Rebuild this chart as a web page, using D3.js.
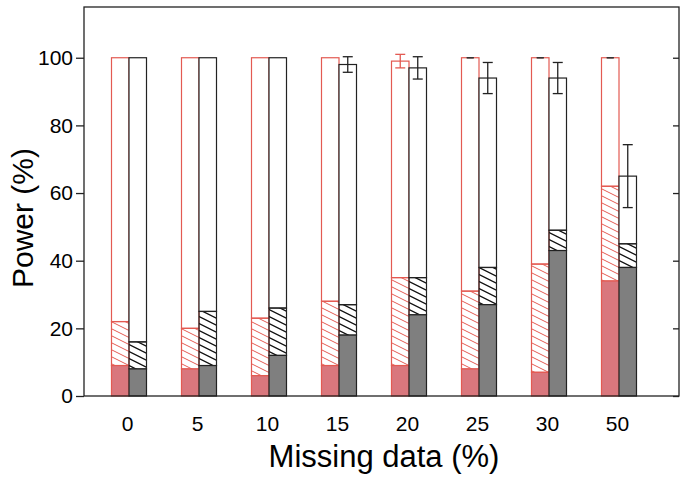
<!DOCTYPE html>
<html>
<head>
<meta charset="utf-8">
<script src="https://cdn.jsdelivr.net/npm/d3@7"></script>
<style>
    body { margin: 0; background: #fff; }
    text { font-family: Arial, "Liberation Sans", sans-serif; fill: #000; }
</style>
</head>
<body>
<div id="chart"></div>
<script>
// Missing data levels (x categories)
const categories = ["0", "5", "10", "15", "20", "25", "30", "50"];

// Red bars: solid part, hatched part top, total, error
const redSolid = [9, 8, 6, 9, 9, 8, 7, 34];
const redHatch = [22, 20, 23, 28, 35, 31, 39, 62];
const redTotal = [100, 100, 100, 100, 99, 100, 100, 100];
const redErr = [null, null, null, null, 2, 0, 0, 0];

// Grey/black bars
const blackSolid = [8, 9, 12, 18, 24, 27, 43, 38];
const blackHatch = [16, 25, 26, 27, 35, 38, 49, 45];
const blackTotal = [100, 100, 100, 98, 97, 94, 94, 65];
const blackErr = [null, null, null, 2.3, 3.3, 4.6, 4.6, 9.3];

const yTicks = [0, 20, 40, 60, 80, 100];

const margin = { top: 7, right: 6, bottom: 81, left: 84 };
const width = 685 - margin.left - margin.right;
const height = 477 - margin.top - margin.bottom;

const redLine = "#e35a52";
const redFill = "#d9777d";
const greyFill = "#7f7f7f";
const barW = 17.5;

const svg = d3.select("#chart")
    .append("svg")
    .attr("width", 685)
    .attr("height", 477);

// Hatch patterns
const defs = svg.append("defs");
function hatch(id, color, sw) {
    const p = defs.append("pattern")
        .attr("id", id)
        .attr("patternUnits", "userSpaceOnUse")
        .attr("width", 14)
        .attr("height", 7);
    p.append("path")
        .attr("d", "M-14,-7 L28,14 M-14,0 L14,14 M0,-7 L28,7")
        .attr("stroke", color)
        .attr("stroke-width", sw)
        .attr("fill", "none");
}
hatch("hatchRed", redLine, 1);
hatch("hatchBlack", "#111", 1.3);

const g = svg.append("g")
    .attr("transform", "translate(" + margin.left + "," + margin.top + ")");

const x = d3.scalePoint()
    .domain(categories)
    .range([45, 535]);

const y = d3.scaleLinear()
    .domain([0, 115])
    .range([height, 0]);

// Draw stacked segments for one bar
function drawBar(i, offset, solid, hatchTop, total, fill, pat, stroke) {
    const x0 = x(categories[i]) + offset;
    const segs = [
        { lo: hatchTop[i], hi: total[i], f: "#fff" },
        { lo: solid[i], hi: hatchTop[i], f: "url(#" + pat + ")" },
        { lo: 0, hi: solid[i], f: fill }
    ];
    segs.forEach(s => {
        g.append("rect")
            .attr("x", x0)
            .attr("y", y(s.hi))
            .attr("width", barW)
            .attr("height", y(s.lo) - y(s.hi))
            .attr("fill", s.f)
            .attr("stroke", stroke)
            .attr("stroke-width", 1.2);
    });
}

function drawErr(i, offset, total, err, color) {
    if (err[i] === null) return;
    const cx = x(categories[i]) + offset + barW / 2;
    const c = err[i] === 0 ? "#333" : color;
    const cap = err[i] === 0 ? 3.5 : 5;
    const eg = g.append("g").attr("stroke", c).attr("stroke-width", 1.3);
    eg.append("line")
        .attr("x1", cx).attr("x2", cx)
        .attr("y1", y(total[i] + err[i])).attr("y2", y(total[i] - err[i]));
    [total[i] + err[i], total[i] - err[i]].forEach(v => {
        eg.append("line")
            .attr("x1", cx - cap).attr("x2", cx + cap)
            .attr("y1", y(v)).attr("y2", y(v));
    });
}

categories.forEach((c, i) => {
    drawBar(i, -barW, redSolid, redHatch, redTotal, redFill, "hatchRed", redLine);
    drawBar(i, 0, blackSolid, blackHatch, blackTotal, greyFill, "hatchBlack", "#222");
    drawErr(i, -barW, redTotal, redErr, redLine);
    drawErr(i, 0, blackTotal, blackErr, "#222");
});

// Frame
g.append("rect")
    .attr("width", width)
    .attr("height", height)
    .attr("fill", "none")
    .attr("stroke", "#222")
    .attr("stroke-width", 1.3);

// Y axis left (outward ticks) and right (inward ticks)
const yAxis = g.append("g")
    .call(d3.axisLeft(y).tickValues(yTicks).tickSize(8).tickPadding(3));
yAxis.select(".domain").remove();
yAxis.selectAll("text").style("font-size", "21px");
yAxis.selectAll("line").attr("stroke", "#222").attr("stroke-width", 1.3);

const yRight = g.append("g")
    .attr("transform", "translate(" + width + ",0)")
    .call(d3.axisLeft(y).tickValues(yTicks).tickSize(6).tickFormat(""));
yRight.select(".domain").remove();
yRight.selectAll("line").attr("stroke", "#222").attr("stroke-width", 1.3);

// X labels
const xAxis = g.append("g")
    .attr("transform", "translate(0," + height + ")")
    .call(d3.axisBottom(x).tickSize(0).tickPadding(20));
xAxis.select(".domain").remove();
xAxis.selectAll("text")
    .attr("dx", -2)
    .style("font-size", "21px");

// Axis titles
svg.append("text")
    .attr("x", 384)
    .attr("y", 467)
    .attr("text-anchor", "middle")
    .style("font-size", "31px")
    .text("Missing data (%)");

svg.append("text")
    .attr("transform", "translate(33,218) rotate(-90)")
    .attr("text-anchor", "middle")
    .style("font-size", "30px")
    .text("Power (%)");
</script>
</body>
</html>
